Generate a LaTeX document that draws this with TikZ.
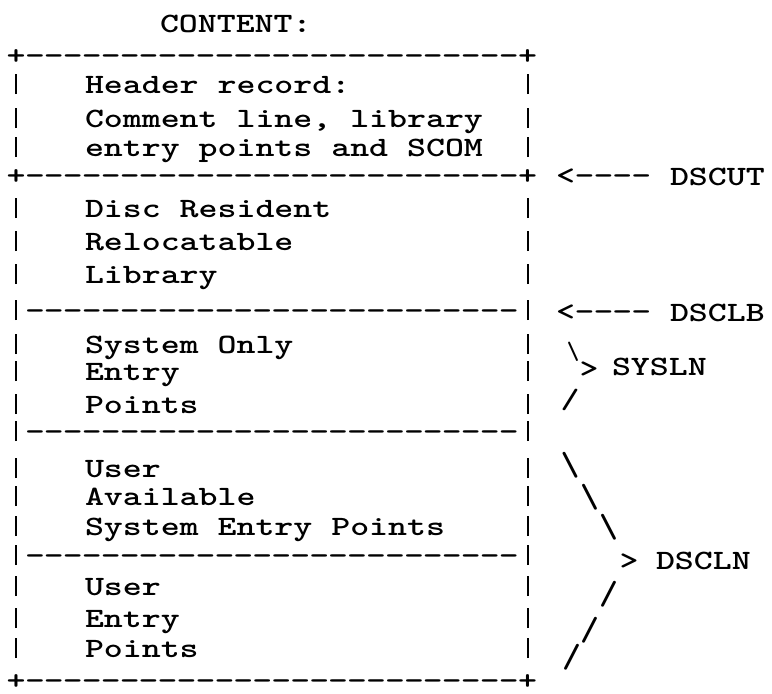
\documentclass[tikz,border=0pt]{standalone}
\usepackage{graphicx}
\newcommand\tw[1]{\scalebox{1.2891}[1]{\fontsize{28}{28}\selectfont\ttfamily\bfseries #1}}
\newcommand\dsh{\scalebox{1.35}[1]{\fontsize{28}{28}\selectfont\ttfamily\bfseries -}}
\newcommand\vbar{\rule[-1pt]{2pt}{20pt}}
\newcommand\bigsl[1]{\scalebox{1.2891}[1.2]{\fontsize{28}{28}\selectfont\ttfamily\bfseries #1}}
\newcommand\smsl[1]{\scalebox{0.85}[0.9]{\fontsize{28}{28}\selectfont\ttfamily\bfseries #1}}
\tikzset{
  txt/.style={anchor=base west, inner sep=0pt, outer sep=0pt},
  chr/.style={anchor=base, inner sep=0pt, outer sep=0pt},
}
\begin{document}
\begin{tikzpicture}[x=1pt,y=-1pt]
\useasboundingbox (0,0) rectangle (772,694);
% title
\node[txt] (title) at (160,32) {\tw{CONTENT:}};
% dashed border rows
\foreach \y [count=\i] in {64,184,319,440,564,689}{
  \foreach \c in {1,...,26}{
    \node[chr] (d\i-\c) at ({16+18.95*\c},\y) {\dsh};
  }
}
% corners
\foreach \y [count=\i] in {64,184,689}{
  \node[chr] (pl\i) at (16,\y) {\tw{+}};
  \node[chr] (pr\i) at (527.65,\y) {\tw{+}};
}
% side bars
\foreach \y [count=\i] in {93,127,156,217,250,283,319,353,380,413,440,477,505,535,564,595,627,657}{
  \node[chr] (bl\i) at (16,\y) {\vbar};
  \node[chr] (br\i) at (527.65,\y) {\vbar};
}
% box texts
\node[txt] (t1) at (85,93)  {\tw{Header record:}};
\node[txt] (t2) at (85,127) {\tw{Comment line, library}};
\node[txt] (t3) at (85,156) {\tw{entry points and SCOM}};
\node[txt] (t4) at (85,217) {\tw{Disc Resident}};
\node[txt] (t5) at (85,250) {\tw{Relocatable}};
\node[txt] (t6) at (85,283) {\tw{Library}};
\node[txt] (t7) at (85,353) {\tw{System Only}};
\node[txt] (t8) at (85,380) {\tw{Entry}};
\node[txt] (t9) at (85,413) {\tw{Points}};
\node[txt] (t10) at (85,477) {\tw{User}};
\node[txt] (t11) at (85,505) {\tw{Available}};
\node[txt] (t12) at (85,535) {\tw{System Entry Points}};
\node[txt] (t13) at (85,595) {\tw{User}};
\node[txt] (t14) at (85,627) {\tw{Entry}};
\node[txt] (t15) at (85,657) {\tw{Points}};
% pointer arrows
\foreach \y [count=\i] in {184,320}{
  \node[chr] (lt\i) at ({16+18.95*29},\y) {\tw{<}};
  \foreach \c in {30,...,33}{
    \node[chr] (ad\i-\c) at ({16+18.95*\c},\y) {\dsh};
  }
}
\node[txt] (dscut) at (670,185) {\tw{DSCUT}};
\node[txt] (dsclb) at (670,321) {\tw{DSCLB}};
% SYSLN brace
\node[chr] (s1) at (573,359) {\smsl{\textbackslash}};
\node[chr] (s2) at (589,377) {\tw{>}};
\node[chr] (s3) at (570,408) {\tw{/}};
\node[txt] (sysln) at (612,375) {\tw{SYSLN}};
% DSCLN brace
\node[chr] (c1) at (570,475) {\bigsl{\textbackslash}};
\node[chr] (c2) at (589.5,507) {\bigsl{\textbackslash}};
\node[chr] (c3) at (608.5,537) {\bigsl{\textbackslash}};
\node[chr] (c4) at (629,569) {\tw{>}};
\node[chr] (c5) at (608.5,604) {\bigsl{/}};
\node[chr] (c6) at (589.5,640) {\bigsl{/}};
\node[chr] (c7) at (571.5,667) {\bigsl{/}};
\node[txt] (dscln) at (656,569) {\tw{DSCLN}};
\end{tikzpicture}
\end{document}
